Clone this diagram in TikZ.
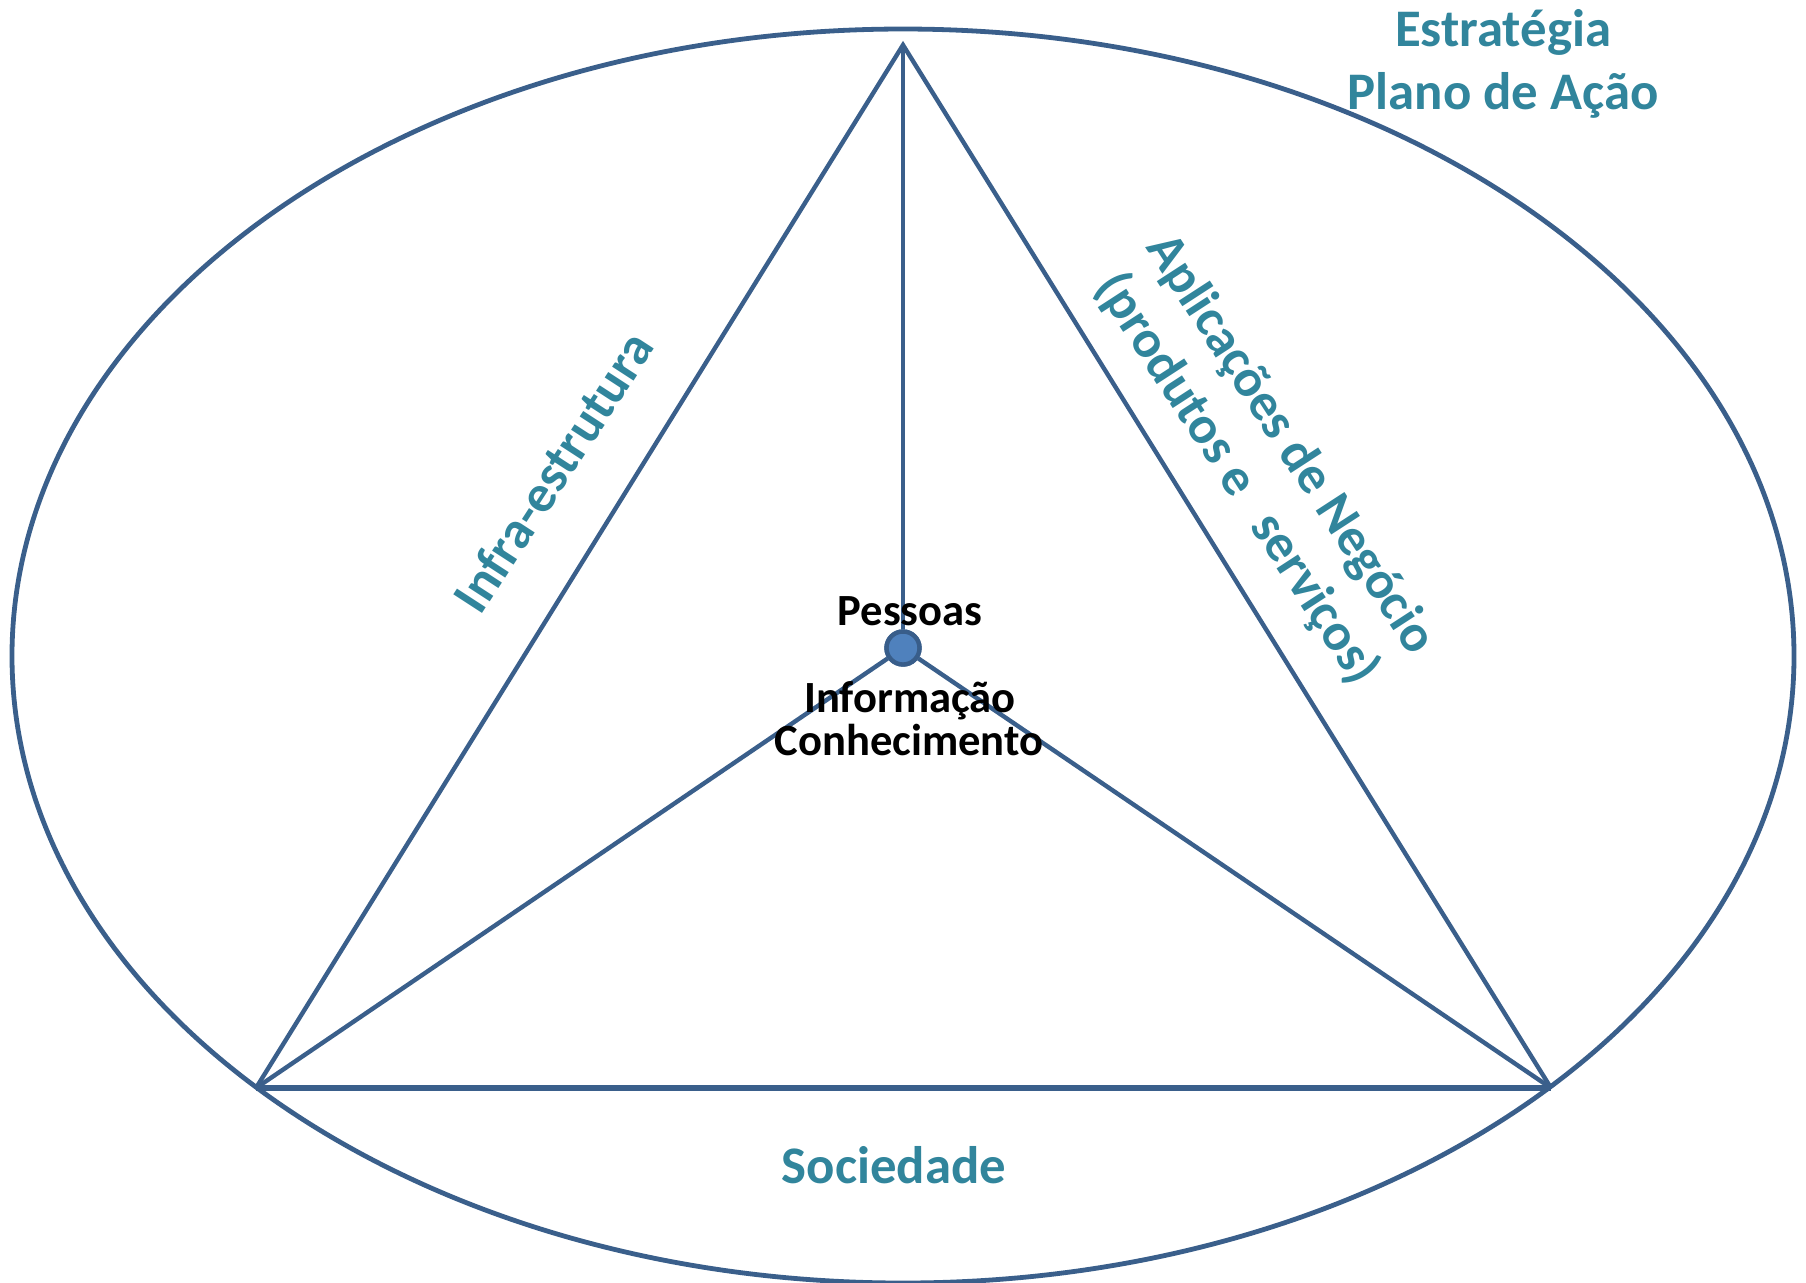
\documentclass[tikz,border=0pt]{standalone}
\usepackage{fontspec}
\setmainfont{Carlito}
\definecolor{lineblue}{HTML}{3A5F8B}
\definecolor{dotfill}{HTML}{4F81BD}
\definecolor{dotedge}{HTML}{385D8A}
\definecolor{teal}{HTML}{31859C}
\begin{document}
\begin{tikzpicture}[x=0.5pt,y=-0.5pt,
  edge/.style={draw=lineblue,line width=2.2pt},
  tlabel/.style={text=teal,font=\fontsize{26.4}{32}\selectfont\bfseries,inner sep=0pt},
  blabel/.style={text=black,font=\fontsize{22.3}{22}\selectfont\bfseries,inner sep=0pt},
  hub/.style={circle,fill=dotfill,draw=dotedge,line width=2.2pt,minimum size=16.5pt,inner sep=0pt}]
\useasboundingbox (0,0) rectangle (1806,1282);
\draw[edge,line width=2.4pt] (903,656) ellipse [x radius=445.5pt,y radius=313.5pt];
\coordinate (top) at (903,45);
\coordinate (bl) at (256,1088);
\coordinate (br) at (1551,1088);
\node[hub] (c) at (903,648) {};
\draw[edge,line join=miter] (bl) -- (top) -- (br);
\draw[edge,line width=3pt] (bl) -- (br);
\draw[edge] (top) -- (c);
\draw[edge] (c) -- (bl);
\draw[edge] (c) -- (br);
\node[hub] (c2) at (c) {};
\node[tlabel,anchor=base] (estr) at (1503,46) {Estratégia};
\node[tlabel,anchor=base] (plano) at (1503,109) {Plano de Ação};
\node[tlabel,anchor=base] (soc) at (894,1183) {Sociedade};
\node[blabel,anchor=base] (pess) at (910,625) {Pessoas};
\node[blabel,anchor=base] (info) at (910,712) {Informação};
\node[blabel,anchor=base] (conh) at (909,755) {Conhecimento};
\node[tlabel,rotate=57] (infra) at (553,472) {Infra-estrutura};
\node[tlabel,rotate=-57,align=center] (apl) at (1263,462) {Aplicações de Negócio\\(produtos e\hspace{0.6em}serviços)};
\end{tikzpicture}
\end{document}
